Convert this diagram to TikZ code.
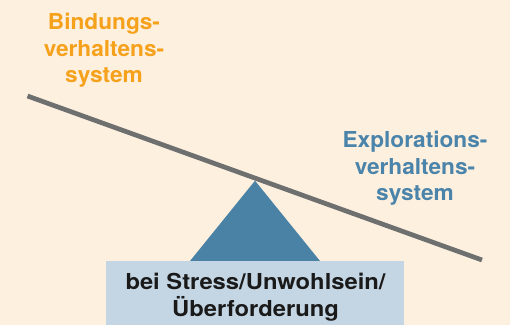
\documentclass[tikz,border=0pt]{standalone}
\usepackage{fontspec}
\setmainfont{TeX Gyre Heros}
\newfontfamily\lblfont[FakeStretch=1.03]{TeX Gyre Heros}
\newfontfamily\boxfont[FakeStretch=1.08]{TeX Gyre Heros}
\definecolor{bgcol}{HTML}{FEF0DF}
\definecolor{beamcol}{HTML}{6E6F6F}
\definecolor{tricol}{HTML}{4A82A6}
\definecolor{boxcol}{HTML}{C4D6E4}
\definecolor{orangecol}{HTML}{F6A11B}
\definecolor{bluecol}{HTML}{4A84AA}
\definecolor{textcol}{HTML}{1A1A1A}
\tikzset{
  lbl/.style={inner sep=0pt, align=center, font=\lblfont\fontsize{22}{26.5}\selectfont\bfseries},
  boxlbl/.style={inner sep=0pt, align=center, font=\boxfont\fontsize{22}{27}\selectfont\bfseries},
  beam/.style={draw=beamcol, line width=4.7pt},
}
\begin{document}
\begin{tikzpicture}[x=1pt,y=-1pt]
\fill[bgcol] (0,0) rectangle (510,325);
\useasboundingbox (0,0) rectangle (510,325);
\coordinate (apex) at (255,180.7);
\coordinate (bl) at (190,261);
\coordinate (br) at (320,261);
\fill[tricol] (apex) -- (br) -- (bl) -- cycle;
\coordinate (beamL) at (27.5,96);
\coordinate (beamR) at (482,260);
\draw[beam] (beamL) -- (beamR);
\node[fill=boxcol, inner sep=0pt, minimum width=298pt, minimum height=64pt, anchor=north west] (box) at (106,261) {};
\node[boxlbl, text=textcol, anchor=north] (stress) at (255.5,272.5) {bei Stress/Unwohlsein/\\Überforderung};
\node[lbl, text=orangecol, anchor=north] (bind) at (104,13.3) {Bindungs-\\verhaltens-\\system};
\node[lbl, text=bluecol, anchor=north] (expl) at (415,131) {Explorations-\\verhaltens-\\system};
\end{tikzpicture}
\end{document}
